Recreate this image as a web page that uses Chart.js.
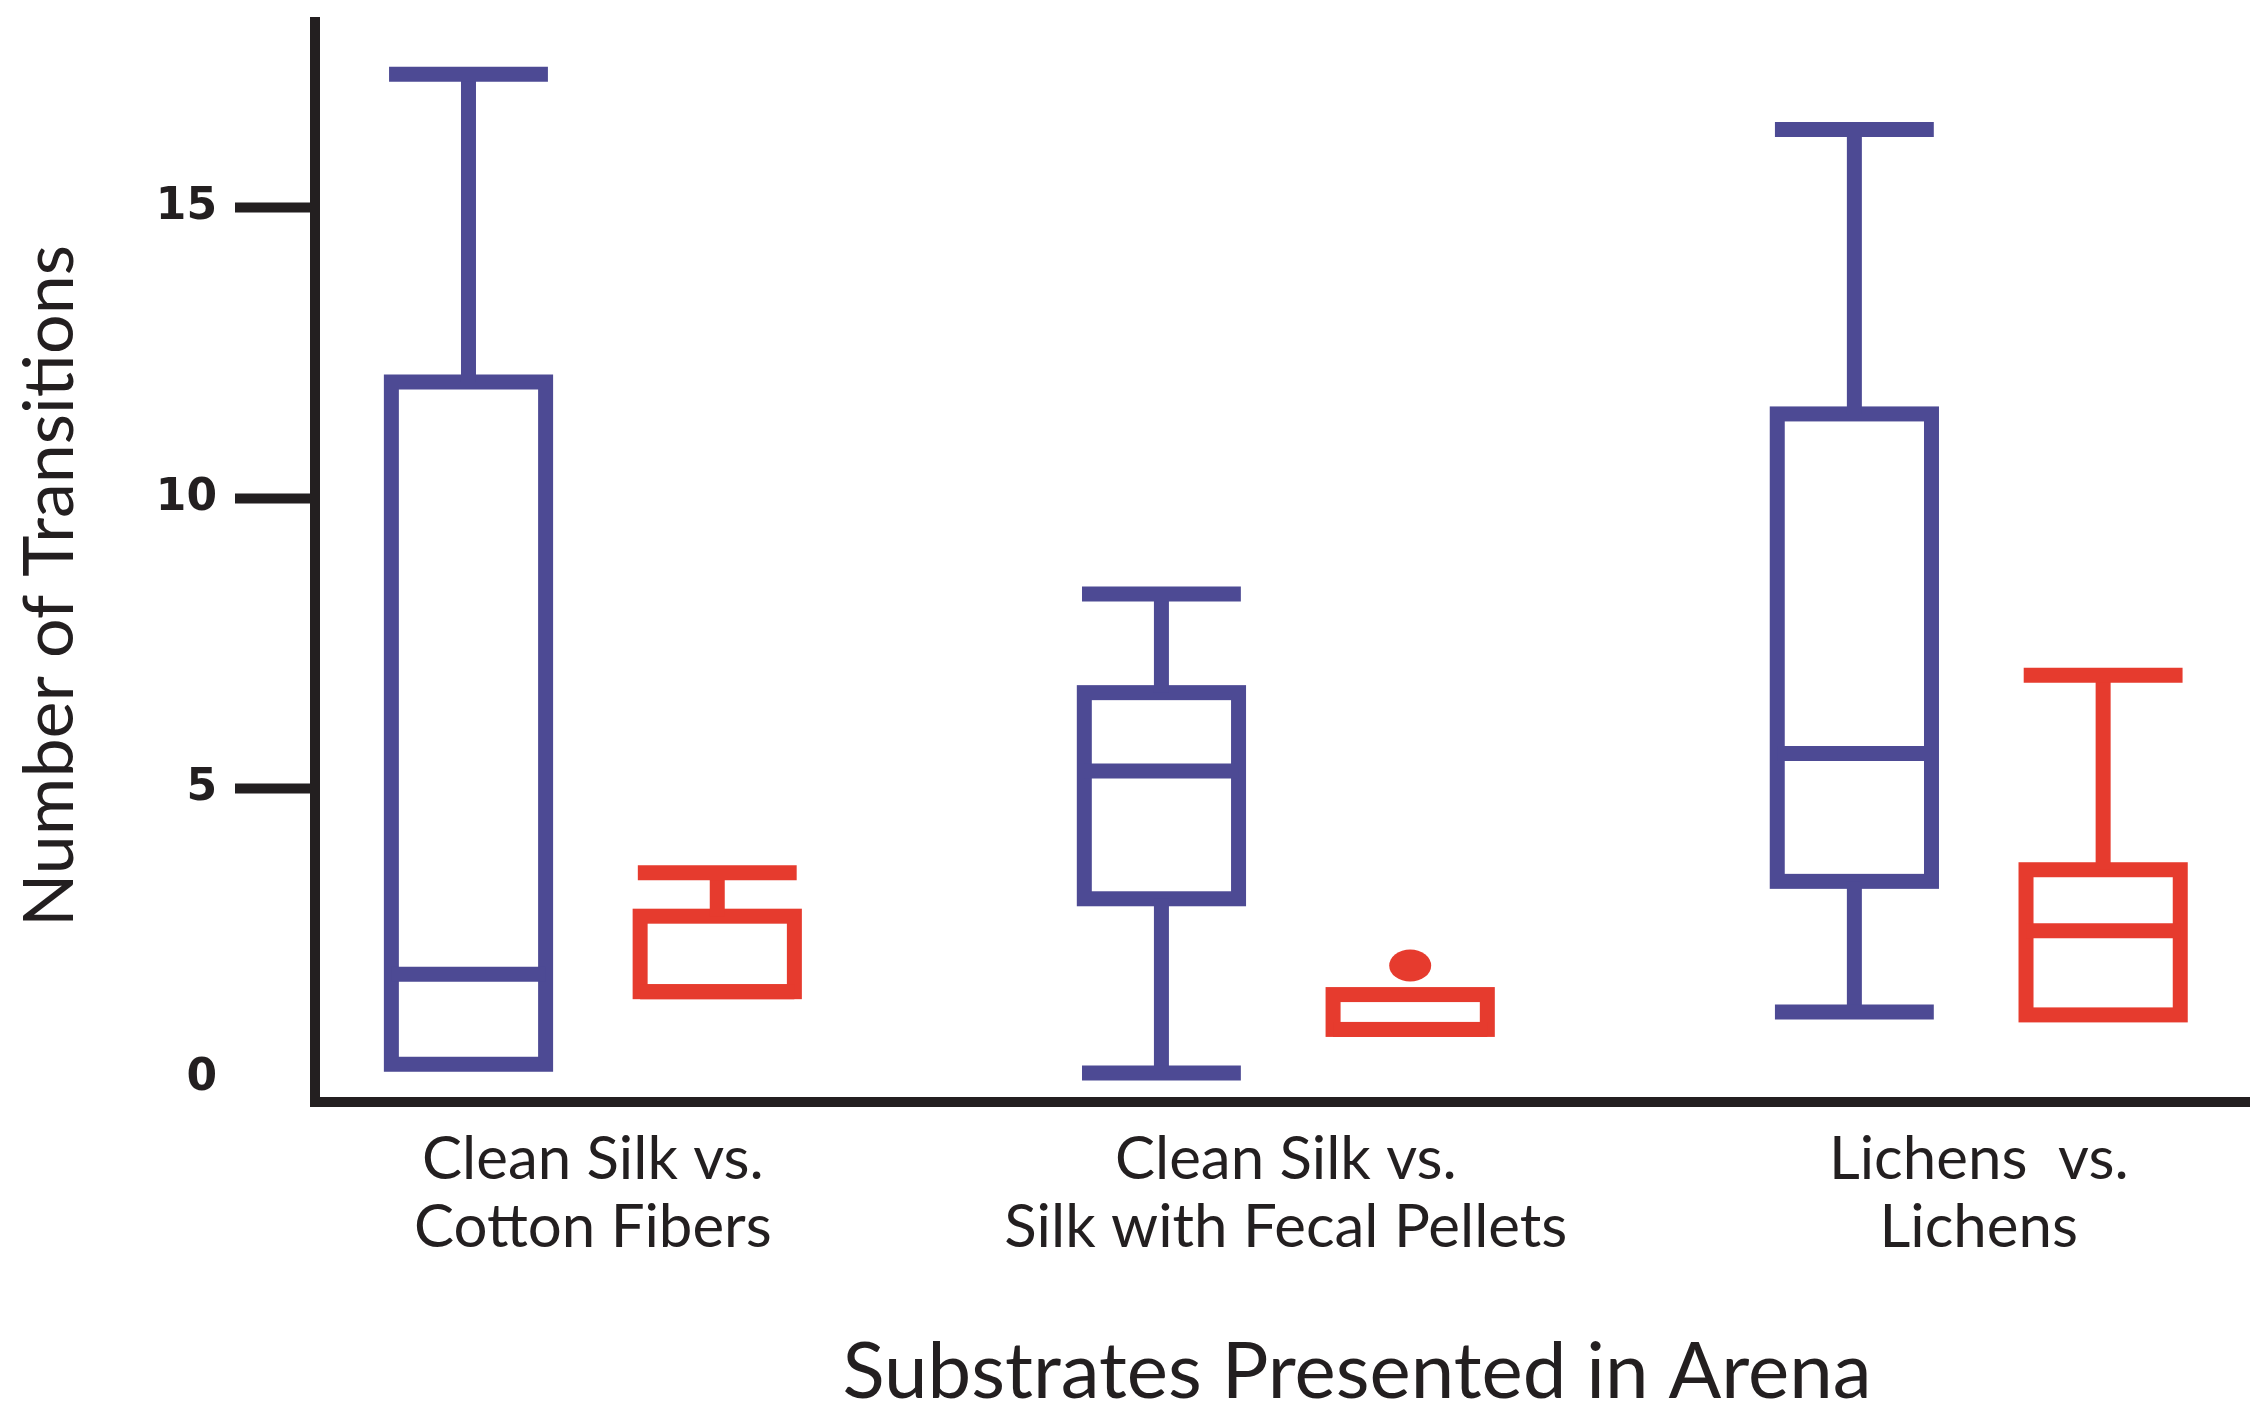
<!DOCTYPE html>
<html>
<head>
<meta charset="utf-8">
<script src="https://cdn.jsdelivr.net/npm/chart.js@4.4.1/dist/chart.umd.min.js"></script>
<style>
  html, body { margin: 0; background: #fff; }
  #wrap { width: 2268px; height: 1421px; }
</style>
</head>
<body>
<div id="wrap"><canvas id="chart"></canvas></div>
<script>
// categories and tick labels
const categories = [["Clean Silk vs.", "Cotton Fibers"], ["Clean Silk vs.", "Silk with Fecal Pellets"], ["Lichens  vs.", "Lichens"]];
const yTicks = [0, 5, 10, 15];
const xTitle = 'Substrates Presented in Arena';
const yTitle = 'Number of Transitions';

// blue series (five-number summary per category)
const blueMin    = [0.25, 0.1, 1.15];
const blueQ1     = [0.25, 3.1, 3.4];
const blueMedian = [1.8, 5.3, 5.6];
const blueQ3     = [12.0, 6.65, 11.45];
const blueMax    = [17.3, 8.35, 16.35];

// red series
const redMin      = [1.5, 0.85, 1.1];
const redQ1       = [1.5, 0.85, 1.1];
const redMedian   = [1.5, 0.85, 2.55];
const redQ3       = [2.8, 1.45, 3.6];
const redMax      = [3.55, 1.45, 6.95];
const redOutliers = [[], [1.95], []];

const BLUE = '#4d4a94', RED = '#e63b2e', INK = '#231f20';
const LINE = 15;

function boxData(q1, q3){
  return categories.map((c, i) => ({ x: i, y: [q1[i], q3[i]] }));
}

/* whiskers, medians, outliers and box outlines, placed by the scales */
const boxPlugin = {
  id: 'boxes',
  afterDatasetsDraw(chart){
    const ctx = chart.ctx, y = chart.scales.y;
    chart.data.datasets.forEach((ds, di) => {
      const s = ds.stats;
      chart.getDatasetMeta(di).data.forEach((bar, i) => {
        const half = bar.width / 2, cx = bar.x, cap = half * 1.03;
        const pTop = y.getPixelForValue(s.q3[i]);
        const pBot = y.getPixelForValue(s.q1[i]);
        ctx.save();
        ctx.strokeStyle = ds.lineColor;
        ctx.fillStyle = ds.lineColor;
        ctx.lineWidth = LINE;
        ctx.lineJoin = 'miter';
        ctx.lineCap = 'butt';
        ctx.strokeRect(cx - half, pTop, bar.width, pBot - pTop);
        // median
        const pMed = y.getPixelForValue(s.med[i]);
        ctx.beginPath(); ctx.moveTo(cx - half, pMed); ctx.lineTo(cx + half, pMed); ctx.stroke();
        // upper whisker
        if (s.max[i] > s.q3[i]) {
          const pMax = y.getPixelForValue(s.max[i]);
          ctx.beginPath(); ctx.moveTo(cx, pTop); ctx.lineTo(cx, pMax); ctx.stroke();
          ctx.beginPath(); ctx.moveTo(cx - cap, pMax); ctx.lineTo(cx + cap, pMax); ctx.stroke();
        }
        // lower whisker
        if (s.min[i] < s.q1[i]) {
          const pMin = y.getPixelForValue(s.min[i]);
          ctx.beginPath(); ctx.moveTo(cx, pBot); ctx.lineTo(cx, pMin); ctx.stroke();
          ctx.beginPath(); ctx.moveTo(cx - cap, pMin); ctx.lineTo(cx + cap, pMin); ctx.stroke();
        }
        (s.out[i] || []).forEach(v => {
          ctx.beginPath();
          ctx.ellipse(cx, y.getPixelForValue(v), 21, 16, 0, 0, Math.PI * 2);
          ctx.fill();
        });
        ctx.restore();
      });
    });
  }
};

/* axis titles, both sit a little off the plot centre like in the figure */
const titlePlugin = {
  id: 'titles',
  afterDraw(chart){
    const ctx = chart.ctx, a = chart.chartArea;
    ctx.save();
    ctx.fillStyle = INK;
    ctx.textAlign = 'center';
    ctx.font = '78px Lato';
    ctx.textBaseline = 'alphabetic';
    ctx.fillText(xTitle, (a.left + a.right) / 2 + 75, chart.height - 23);
    ctx.translate(50, (a.top + a.bottom) / 2 + 24);
    ctx.rotate(-Math.PI / 2);
    ctx.font = '70px Lato';
    ctx.textBaseline = 'middle';
    ctx.fillText(yTitle, 0, 0);
    ctx.restore();
  }
};

new Chart(document.getElementById('chart'), {
  type: 'bar',
  data: {
    datasets: [
      {
        label: 'Series 1',
        data: boxData(blueQ1, blueQ3),
        backgroundColor: '#fff', borderWidth: 0,
        lineColor: BLUE,
        stats: { min: blueMin, q1: blueQ1, med: blueMedian, q3: blueQ3, max: blueMax, out: [] }
      },
      {
        label: 'Series 2',
        data: boxData(redQ1, redQ3),
        backgroundColor: '#fff', borderWidth: 0,
        lineColor: RED,
        stats: { min: redMin, q1: redQ1, med: redMedian, q3: redQ3, max: redMax, out: redOutliers }
      }
    ]
  },
  options: {
    responsive: true,
    maintainAspectRatio: false,
    animation: false,
    categoryPercentage: 0.718,
    barPercentage: 0.62,
    layout: { padding: { top: 22, right: 19, left: 0, bottom: 0 } },
    plugins: { legend: { display: false }, tooltip: { enabled: false } },
    scales: {
      x: {
        type: 'linear',
        min: -0.401, max: 2.39,
        offset: false,
        afterBuildTicks: s => { s.ticks = categories.map((c, i) => ({ value: i })); },
        afterFit: s => { s.height = 319; s.paddingLeft = 0; s.paddingRight = 0; },
        grid: { display: false, drawTicks: false, offset: false },
        border: { display: true, color: INK, width: 10 },
        ticks: {
          autoSkip: false, maxRotation: 0, padding: 24,
          color: INK,
          font: { family: 'Lato', size: 60, lineHeight: 1.13 },
          callback: v => categories[v]
        }
      },
      y: {
        min: -0.4, max: 18.2,
        afterBuildTicks: s => { s.ticks = yTicks.map(v => ({ value: v })); },
        afterFit: s => { s.width = 315; s.paddingTop = 0; s.paddingBottom = 0; },
        grid: {
          drawOnChartArea: false, drawTicks: true, tickLength: 80, tickWidth: 10,
          tickColor: c => (c.tick && c.tick.value === 0) ? 'rgba(0,0,0,0)' : INK
        },
        border: { display: true, color: INK, width: 10 },
        ticks: {
          padding: 18, color: INK,
          font: { family: 'DejaVu Sans', size: 44, weight: 'bold' }
        }
      }
    }
  },
  plugins: [boxPlugin, titlePlugin]
});
</script>
</body>
</html>
